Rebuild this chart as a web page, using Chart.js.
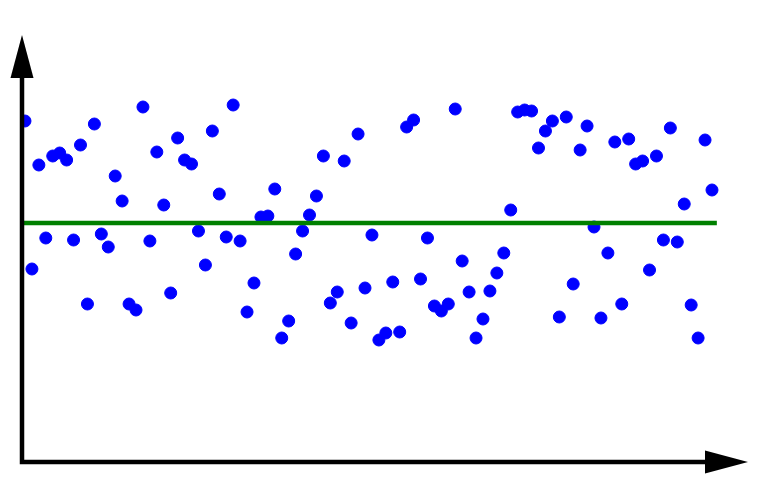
<!DOCTYPE html>
<html>
<head>
<meta charset="utf-8">
<title>Scatter with mean line</title>
<script src="https://cdn.jsdelivr.net/npm/chart.js@4/dist/chart.umd.min.js"></script>
<style>
  html, body { margin: 0; padding: 0; background: #fff; }
  #wrap { width: 768px; height: 480px; position: relative; }
</style>
</head>
<body>
<div id="wrap"><canvas id="chart-canvas"></canvas></div>
<script>
// sample values, one per index 0..99
const sampleValues = [
  1.02, -0.46, 0.58, -0.15, 0.67, 0.70, 0.63, -0.17, 0.78, -0.81,
  0.99, -0.11, -0.24, 0.47, 0.22, -0.81, -0.87, 1.16, -0.18, 0.71,
  0.18, -0.70, 0.85, 0.63, 0.59, -0.08, -0.42, 0.92, 0.29, -0.14,
  1.18, -0.18, -0.89, -0.60, 0.06, 0.07, 0.34, -1.15, -0.98, -0.31,
  -0.08, 0.08, 0.27, 0.67, -0.80, -0.69, 0.62, -1.00, 0.89, -0.65,
  -0.12, -1.17, -1.10, -0.59, -1.09, 0.96, 1.03, -0.56, -0.15, -0.83,
  -0.88, -0.81, 1.14, -0.38, -0.69, -1.15, -0.96, -0.68, -0.50, -0.30,
  0.13, 1.11, 1.13, 1.12, 0.75, 0.92, 1.02, -0.94, 1.06, -0.61,
  0.73, 0.97, -0.04, -0.95, -0.30, 0.81, -0.81, 0.84, 0.59, 0.62,
  -0.47, 0.67, -0.17, 0.95, -0.19, 0.19, -0.82, -1.15, 0.83, 0.33
];

// horizontal reference line
const lineX = [-1, 99.7];
const lineY = [0, 0];

// axis ranges
const xRange = [-0.43, 104.19];
const yRange = [-2.39, 1.88];

const arrowAxes = {
  id: 'arrowAxes',
  afterDatasetsDraw(chart) {
    const { ctx, chartArea } = chart;
    const { left, right, top, bottom } = chartArea;
    const len = 43, half = 11.5;
    ctx.save();
    ctx.fillStyle = '#000';
    ctx.strokeStyle = '#000';
    ctx.lineWidth = 4.5;
    ctx.beginPath();
    ctx.moveTo(left, bottom);
    ctx.lineTo(left, top + len - 1);
    ctx.moveTo(left - 2.25, bottom);
    ctx.lineTo(right - len + 1, bottom);
    ctx.stroke();
    // y arrow
    ctx.beginPath();
    ctx.moveTo(left, top);
    ctx.lineTo(left - half, top + len);
    ctx.lineTo(left + half, top + len);
    ctx.closePath();
    ctx.fill();
    // x arrow
    ctx.beginPath();
    ctx.moveTo(right, bottom);
    ctx.lineTo(right - len, bottom - half);
    ctx.lineTo(right - len, bottom + half);
    ctx.closePath();
    ctx.fill();
    ctx.restore();
  }
};

const ctx = document.getElementById('chart-canvas').getContext('2d');
new Chart(ctx, {
  type: 'scatter',
  data: {
    datasets: [
      {
        type: 'line',
        data: lineX.map((x, i) => ({ x, y: lineY[i] })),
        borderColor: '#008000',
        borderWidth: 4.3,
        pointRadius: 0,
        order: 0
      },
      {
        data: sampleValues.map((y, i) => ({ x: i, y })),
        backgroundColor: '#0000ff',
        borderColor: '#0000ff',
        borderWidth: 1,
        pointRadius: 6,
        order: 1
      }
    ]
  },
  options: {
    responsive: true,
    maintainAspectRatio: false,
    animation: false,
    layout: { padding: { left: 22, right: 20, top: 35, bottom: 18 } },
    plugins: { legend: { display: false }, tooltip: { enabled: false } },
    scales: {
      x: { type: 'linear', min: xRange[0], max: xRange[1], display: false },
      y: { min: yRange[0], max: yRange[1], display: false }
    }
  },
  plugins: [arrowAxes]
});
</script>
</body>
</html>
